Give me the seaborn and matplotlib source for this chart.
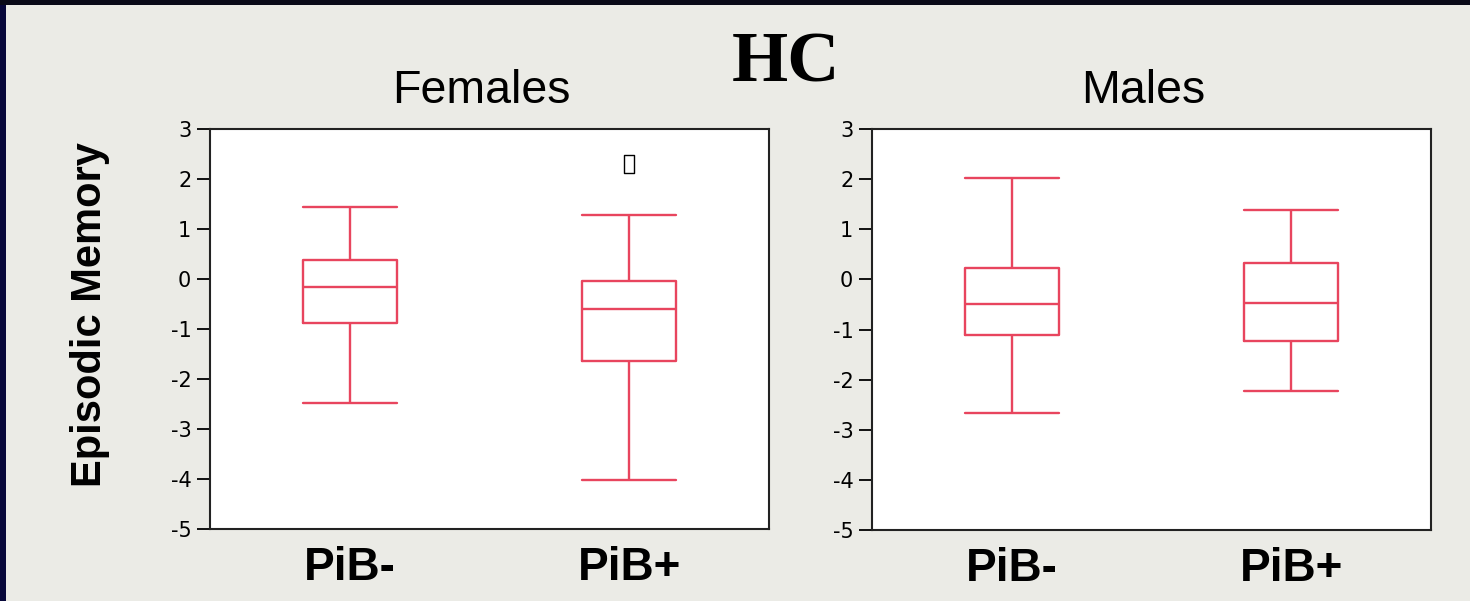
import numpy as np
import pandas as pd
import matplotlib
matplotlib.use("Agg")
import matplotlib.pyplot as plt
from matplotlib.patches import Rectangle
from matplotlib.path import Path
import seaborn as sns

# Five-number summaries of episodic memory scores, healthy controls
groups = ["PiB-", "PiB+"]

female_low = [-2.48, -4.02]
female_q1 = [-0.88, -1.64]
female_median = [-0.16, -0.60]
female_q3 = [0.39, -0.04]
female_high = [1.45, 1.28]
female_outlier_group = ["PiB+"]
female_outlier_value = [2.30]

male_low = [-2.66, -2.22]
male_q1 = [-1.10, -1.22]
male_median = [-0.50, -0.48]
male_q3 = [0.23, 0.33]
male_high = [2.02, 1.38]

y_ticks = [-5, -4, -3, -2, -1, 0, 1, 2, 3]


def summary_frame(low, q1, med, q3, high):
    rows = []
    for g, a, b, c, d, e in zip(groups, low, q1, med, q3, high):
        for v in (a, b, c, d, e):
            rows.append({"group": g, "score": v})
    return pd.DataFrame(rows)


females = summary_frame(female_low, female_q1, female_median, female_q3, female_high)
males = summary_frame(male_low, male_q1, male_median, male_q3, male_high)

sns.set_style("ticks")
plt.rcParams["font.family"] = ["Liberation Sans", "DejaVu Sans"]
plt.rcParams["axes.unicode_minus"] = False
for key in ("text.color", "axes.labelcolor", "xtick.color", "ytick.color"):
    plt.rcParams[key] = "black"

BG = "#EBEBE6"
BOX = "#E8455E"

fig = plt.figure(figsize=(14.70, 6.01), dpi=100, facecolor=BG)
ax_f = fig.add_axes([210 / 1470, 72 / 601, 559 / 1470, 400 / 601])
ax_m = fig.add_axes([872 / 1470, 71 / 601, 559 / 1470, 401 / 601])

# open tall rectangle used for the outlying score
rect_marker = Path([(-0.28, -0.5), (0.28, -0.5), (0.28, 0.5), (-0.28, 0.5), (-0.28, -0.5)],
                   [Path.MOVETO, Path.LINETO, Path.LINETO, Path.LINETO, Path.CLOSEPOLY])

for ax, df, title in [(ax_f, females, "Females"), (ax_m, males, "Males")]:
    sns.boxplot(data=df, x="group", y="score", order=groups, ax=ax,
                fill=False, color=BOX, linewidth=1.7, width=0.336,
                whis=(0, 100), showfliers=False, capwidths=0.336)
    ax.set_facecolor("white")
    ax.set_xlim(-0.5, 1.5)
    ax.set_ylim(-5, 3)
    ax.set_yticks(y_ticks)
    ax.set_yticklabels([str(t) for t in y_ticks], fontsize=15,
                       family=["DejaVu Sans"], color="black")
    ax.set_xticks(range(len(groups)))
    ax.set_xticklabels(groups, fontsize=33, fontweight="bold", color="black")
    ax.tick_params(axis="y", length=9.5, width=1.3, pad=4, colors="black")
    ax.tick_params(axis="x", length=0, pad=12)
    ax.set_xlabel("")
    ax.set_ylabel("")
    ax.set_title(title, fontsize=33.5, pad=19, x=0.485, color="black")
    for s in ax.spines.values():
        s.set_visible(True)
        s.set_color("#222222")
        s.set_linewidth(1.5)

for g, v in zip(female_outlier_group, female_outlier_value):
    ax_f.plot([groups.index(g)], [v], linestyle="none", marker=rect_marker,
              markersize=13, markerfacecolor="none", markeredgecolor="black",
              markeredgewidth=1.0)

fig.text(90 / 1470, 1 - 315 / 601, "Episodic Memory", rotation=90,
         fontsize=30, fontweight="bold", ha="center", va="center", color="black")
fig.text(786 / 1470, 1 - 81 / 601, "HC", fontsize=52, fontweight="bold",
         family=["Liberation Serif"], ha="center", va="baseline", color="black")

# slide frame
fig.add_artist(Rectangle((0, 0), 6 / 1470, 1, transform=fig.transFigure,
                         facecolor="#07073A", edgecolor="none"))
fig.add_artist(Rectangle((0, 1 - 5 / 601), 1, 5 / 601, transform=fig.transFigure,
                         facecolor="#0A0A18", edgecolor="none"))

fig.savefig("out.png", dpi=100, facecolor=BG)
